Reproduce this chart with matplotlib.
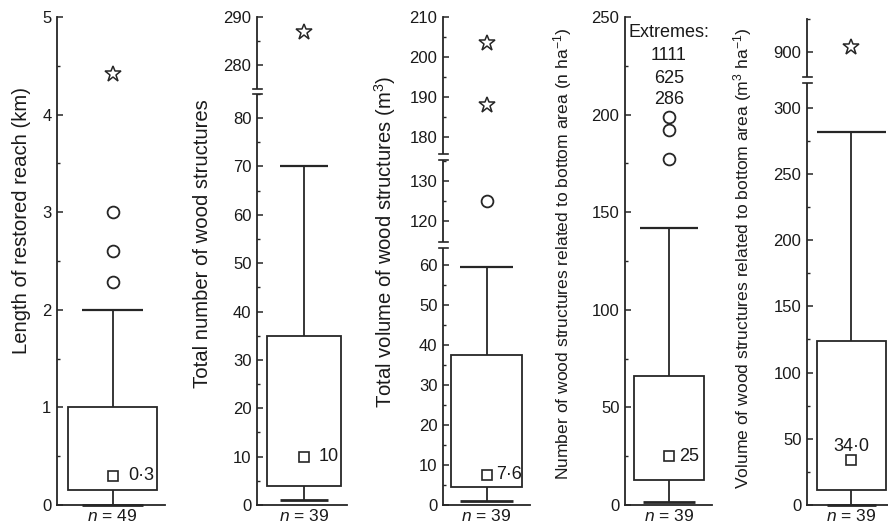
import numpy as np
import matplotlib
matplotlib.use('Agg')
import matplotlib.pyplot as plt
from matplotlib.patches import Rectangle
from matplotlib.ticker import FixedLocator, NullFormatter
import matplotlib.transforms as mtransforms

plt.rcParams['font.family'] = ['Liberation Sans', 'DejaVu Sans']
plt.rcParams['mathtext.fontset'] = 'custom'
plt.rcParams['mathtext.rm'] = 'Liberation Sans'
plt.rcParams['mathtext.it'] = 'Liberation Sans:italic'
plt.rcParams['mathtext.default'] = 'regular'

# ---------------- data ----------------
ylabels = [
    'Length of restored reach (km)',
    'Total number of wood structures',
    'Total volume of wood structures (m$^3$)',
    'Number of wood structures related to bottom area (n ha$^{-1}$)',
    'Volume of wood structures related to bottom area (m$^3$ ha$^{-1}$)',
]
n_values = [49, 39, 39, 39, 39]
q1 = [0.15, 4, 4.5, 13, 11]
q3 = [1.0, 35, 37.5, 66, 124]
whisk_lo = [0.0, 1, 1, 1.5, 0]
whisk_hi = [2.0, 70, 59.5, 142, 282]
medians = [0.3, 10, 7.6, 25, 34.0]
median_labels = ['0·3', '10', '7·6', '25', '34·0']
outliers = [[2.28, 2.6, 3.0], [], [125], [177, 192, 199], []]
extremes = [[4.42], [287], [188, 203.5], [], [904]]
extreme_notes = ['Extremes:', '1111', '625', '286']
extreme_note_y = [242, 230.5, 218.5, 207.5]

# axis segments (broken axes) and ticks
segments = [[(0, 5)],
            [(0, 85.5), (274.6, 290)],
            [(0, 65), (114, 136), (175, 210)],
            [(0, 250)],
            [(0, 321), (879, 925)]]
major_ticks = [[0, 1, 2, 3, 4, 5],
               [0, 10, 20, 30, 40, 50, 60, 70, 80, 280, 290],
               [0, 10, 20, 30, 40, 50, 60, 120, 130, 180, 190, 200, 210],
               [0, 50, 100, 150, 200, 250],
               [0, 50, 100, 150, 200, 250, 300, 900]]
minor_ticks = [[0.5, 1.5, 2.5, 3.5, 4.5],
               [5, 15, 25, 35, 45, 55, 65, 75, 85, 285],
               [5, 15, 25, 35, 45, 55, 65, 125, 135, 185, 195, 205],
               [25, 75, 125, 175, 225],
               [25, 75, 125, 175, 225, 275, 925]]

# ---------------- layout (pixels of 888x523 figure) ----------------
W, H = 888, 523
ax_px = [(57, 165, 17), (257, 347, 17), (443, 530, 17), (625, 712, 17), (807, 888, 19)]
bottom_px = 505
box_c = [0.514, 0.522, 0.5, 0.506, 0.549]
box_w = [0.824, 0.822, 0.816, 0.805, 0.852]
cap_top_w = [0.556, 0.533, 0.6, 0.667, 0.852]
cap_bot_w = [0.556, 0.533, 0.6, 0.6, 0.6]
label_xy = [(22, 221), (202, 244), (385, 242), (563, 254), (743, 258)]
label_size = [14.6, 14.6, 14.6, 12.6, 12.6]
med_text_off = [(8, 0), (7, 0), (3.5, 0), (3.5, 0), (0, 10)]

col = '#262626'


def make_funcs(segs):
    xs, zs, acc = [], [], 0.0
    for a, b in segs:
        xs += [a, b]
        zs += [acc, acc + (b - a)]
        acc += b - a
    xs = np.array(xs, float)
    zs = np.array(zs, float)

    def fwd(y):
        y = np.asarray(y, float)
        out = np.interp(y, xs, zs)
        out = np.where(y < xs[0], zs[0] + (y - xs[0]), out)
        out = np.where(y > xs[-1], zs[-1] + (y - xs[-1]), out)
        return out

    zi = zs.copy()
    for i in range(1, len(zi)):
        if zi[i] <= zi[i - 1]:
            zi[i] = zi[i - 1] + 1e-9

    def inv(z):
        z = np.asarray(z, float)
        out = np.interp(z, zi, xs)
        out = np.where(z < zi[0], xs[0] + (z - zi[0]), out)
        out = np.where(z > zi[-1], xs[-1] + (z - zi[-1]), out)
        return out

    junctions = []
    acc = 0.0
    for a, b in segs[:-1]:
        acc += b - a
        junctions.append(acc / zs[-1])
    return fwd, inv, junctions


fig = plt.figure(figsize=(W / 100, H / 100), dpi=100)

for i in range(5):
    x0, x1, top = ax_px[i]
    ax = fig.add_axes([x0 / W, 1 - bottom_px / H, (x1 - x0) / W, (bottom_px - top) / H])
    fwd, inv, junctions = make_funcs(segments[i])
    ax.set_yscale('function', functions=(fwd, inv))
    ax.set_ylim(segments[i][0][0], segments[i][-1][1])
    ax.set_xlim(0, 1)
    ax.patch.set_alpha(0)

    for s in ['top', 'right']:
        ax.spines[s].set_visible(False)
    for s in ['left', 'bottom']:
        ax.spines[s].set_color(col)
        ax.spines[s].set_linewidth(1.3)
    ax.set_xticks([])

    ax.yaxis.set_major_locator(FixedLocator(major_ticks[i]))
    ax.yaxis.set_minor_locator(FixedLocator(minor_ticks[i]))
    ax.yaxis.set_minor_formatter(NullFormatter())
    ax.set_yticklabels([str(t) for t in major_ticks[i]])
    ax.tick_params(axis='y', which='major', direction='in', length=4, width=1.1,
                   color=col, labelsize=12, labelcolor='#1a1a1a', pad=4)
    ax.tick_params(axis='y', which='minor', direction='in', length=2.5, width=1.0, color=col)

    # box
    c, w = box_c[i], box_w[i]
    ax.add_patch(Rectangle((c - w / 2, q1[i]), w, q3[i] - q1[i], fill=False,
                           edgecolor=col, linewidth=1.3, zorder=3))
    ax.vlines(c, q3[i], whisk_hi[i], color=col, linewidth=1.3, zorder=3)
    ax.vlines(c, whisk_lo[i], q1[i], color=col, linewidth=1.3, zorder=3)
    ax.hlines(whisk_hi[i], c - cap_top_w[i] / 2, c + cap_top_w[i] / 2, color=col, linewidth=1.6, zorder=3)
    ax.hlines(whisk_lo[i], c - cap_bot_w[i] / 2, c + cap_bot_w[i] / 2, color=col, linewidth=2.0,
              zorder=3, clip_on=False)

    # median square
    ax.plot([c], [medians[i]], marker='s', markersize=6.5, markerfacecolor='white',
            markeredgecolor=col, markeredgewidth=1.2, zorder=4)
    dx, dy = med_text_off[i]
    if dy == 0:
        ax.annotate(median_labels[i], (c, medians[i]), xytext=(dx + 3.5, 0),
                    textcoords='offset points', ha='left', va='center', fontsize=13, color='#1a1a1a')
    else:
        ax.annotate(median_labels[i], (c, medians[i]), xytext=(0, dy),
                    textcoords='offset points', ha='center', va='center', fontsize=13, color='#1a1a1a')

    # outliers and extremes
    if outliers[i]:
        ax.plot([c] * len(outliers[i]), outliers[i], linestyle='none', marker='o', markersize=8.5,
                markerfacecolor='white', markeredgecolor=col, markeredgewidth=1.3, zorder=4)
    if extremes[i]:
        ax.plot([c] * len(extremes[i]), extremes[i], linestyle='none', marker='*', markersize=12,
                markerfacecolor='white', markeredgecolor=col, markeredgewidth=1.1, zorder=4)

    # n label
    trans = mtransforms.blended_transform_factory(ax.transData, fig.transFigure)
    ax.text(c, 1 - 516 / H, r'$\mathit{n}$ = %d' % n_values[i], transform=trans, ha='center',
            va='center', fontsize=12.5, color='#1a1a1a')

    # y label
    lx, ly = label_xy[i]
    ax.set_ylabel(ylabels[i], fontsize=label_size[i], color='#1a1a1a', va='center', ha='center')
    ax.yaxis.set_label_coords(lx / W, 1 - ly / H, transform=fig.transFigure)

    # axis break marks
    ax_h = bottom_px - top
    g = 2.8 / ax_h
    hw = 4.5 / (x1 - x0)
    for f in junctions:
        ax.add_patch(Rectangle((-hw, f - g), 2 * hw, 2 * g, transform=ax.transAxes,
                               facecolor='white', edgecolor='none', clip_on=False, zorder=5))
        for yy in (f - g, f + g):
            ax.plot([-hw, hw], [yy, yy], transform=ax.transAxes, color=col, linewidth=1.2,
                    clip_on=False, zorder=6)

    if i == 3:
        for txt, yy in zip(extreme_notes, extreme_note_y):
            ax.text(c, yy, txt, ha='center', va='center', fontsize=13, color='#1a1a1a')

fig.savefig('out.png', dpi=100)
